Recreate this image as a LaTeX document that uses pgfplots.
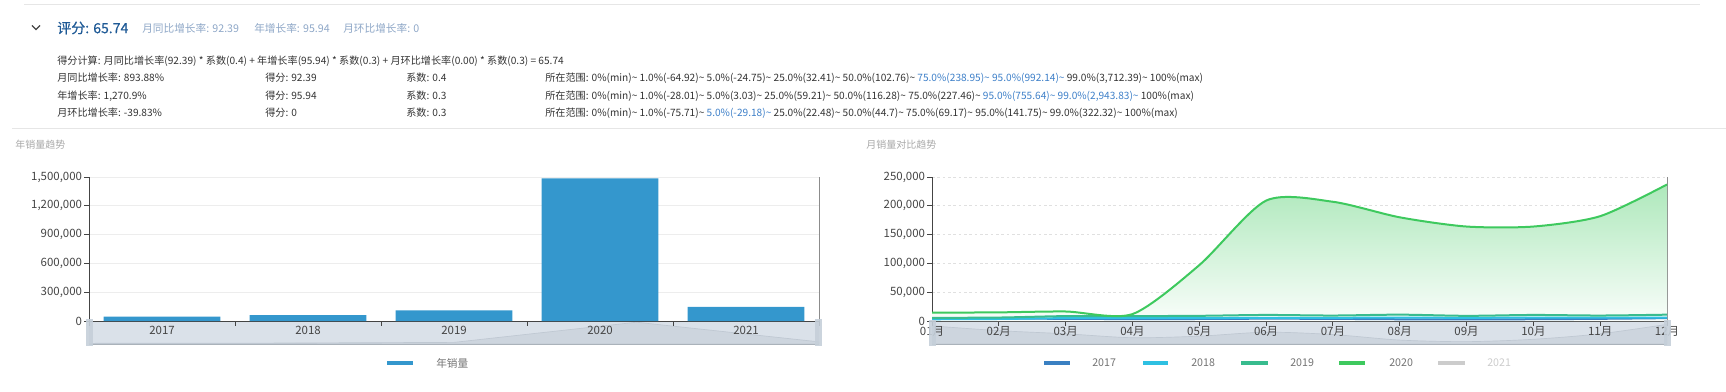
\documentclass[border=0pt]{standalone}
\usepackage{pgfplots}
\usepackage{pgfplotstable}
\pgfplotsset{compat=1.18}
\usepackage{fontspec}
\setmainfont{Noto Sans CJK SC}
\definecolor{txtc}{HTML}{333333}
\definecolor{scoreblue}{HTML}{1F5A96}
\definecolor{subblue}{HTML}{8EA7C7}
\definecolor{hlblue}{HTML}{3D7FC8}
\definecolor{titlegray}{HTML}{A8A8A8}
\definecolor{tickc}{HTML}{444444}
\definecolor{axisc}{HTML}{444444}
\definecolor{barc}{HTML}{3497CD}
\definecolor{cA}{HTML}{3A80C2}
\definecolor{cB}{HTML}{2EC0E2}
\definecolor{cC}{HTML}{38BC8E}
\definecolor{cD}{HTML}{3EC95E}
\definecolor{cE}{HTML}{CCCCCC}
\definecolor{slbg}{HTML}{DAE1E9}
\definecolor{slsh}{HTML}{CDD5DE}
\definecolor{slline}{HTML}{BFC8D2}
\definecolor{slhandle}{HTML}{C5CFD9}
\definecolor{sep}{HTML}{E6E6E6}
\newcommand\T{\textasciitilde}
\newcommand\hl[1]{\textcolor{hlblue}{#1}}

\pgfplotstableread{
x y
0 45000
1 62000
2 110000
3 1485000
4 146000
}\annual

\pgfplotstableread{
m   s17   s18   s19    s20
1   4800  3000  5500   14500
2   4200  3500  6000   15000
3   3800  5000  8500   16500
4   3300  5000  8500   12000
5   3500  5000  9000   97000
6   4000  5500  10500  209000
7   3700  5500  9500   207000
8   3000  6000  11000  180000
9   2800  5500  9000   164000
10  3100  6000  10500  164000
11  3800  6000  9500   182000
12  5000  6000  11000  237000
}\monthly

\pgfplotsset{
  base/.style={
    scale only axis,
    anchor=south west,
    height=108pt,
    ymin=0,
    axis x line*=bottom, axis y line*=left,
    axis line style={draw=axisc, line width=0.75pt},
    tick style={draw=axisc, line width=0.75pt},
    tick align=outside,
    major tick length=3.5pt,
    ymajorgrids,
    tick label style={font=\fontsize{8.6pt}{10pt}\selectfont, text=tickc},
    scaled y ticks=false,
    yticklabel style={inner sep=1.5pt, /pgf/number format/.cd, fixed, 1000 sep={,}, assume math mode=true},
    xticklabel style={anchor=center, yshift=-4pt},
    clip=false,
  },
  shadow/.style={
    scale only axis, anchor=south west, height=16.5pt,
    axis lines=none, ticks=none, ymin=0, clip=true,
  }
}

\begin{document}
\begin{tikzpicture}
\begin{scope}[x=0.75pt,y=-0.75pt]
\path[use as bounding box] (0,0) rectangle (1726,392);
% separators
\draw[sep, line width=0.75pt] (24,4.5) -- (1700,4.5);
\draw[sep, line width=0.75pt] (12,128.5) -- (1726,128.5);
% chevron
\draw[axisc, line width=1pt] (32,25.5) -- (36,29.5) -- (40,25.5);
% header
\node[anchor=west, inner sep=0pt, font=\fontsize{10.5pt}{12pt}\selectfont\addfontfeature{FakeBold=0.6}, text=scoreblue] at (57,28) {评分: 65.74};
\begin{scope}[every node/.style={anchor=west, inner sep=0pt, font=\fontsize{8pt}{9.6pt}\selectfont, text=subblue}]
\node at (142,28) {月同比增长率: 92.39};
\node at (254,28) {年增长率: 95.94};
\node at (343,28) {月环比增长率: 0};
\end{scope}
\begin{scope}[every node/.style={anchor=west, inner sep=0pt, font=\fontsize{7.6pt}{9pt}\selectfont, text=txtc}]
\node at (57,61) {得分计算: 月同比增长率(92.39) * 系数(0.4) + 年增长率(95.94) * 系数(0.3) + 月环比增长率(0.00) * 系数(0.3) = 65.74};
\node at (57,78) {月同比增长率: 893.88\%};
\node at (265,78) {得分: 92.39};
\node at (406,78) {系数: 0.4};
\node at (545,78) {所在范围: 0\%(min)\T{} 1.0\%(-64.92)\T{} 5.0\%(-24.75)\T{} 25.0\%(32.41)\T{} 50.0\%(102.76)\T{} \hl{75.0\%(238.95)\T{} 95.0\%(992.14)\T{}} 99.0\%(3,712.39)\T{} 100\%(max)};
\node at (57,96) {年增长率: 1,270.9\%};
\node at (265,96) {得分: 95.94};
\node at (406,96) {系数: 0.3};
\node at (545,96) {所在范围: 0\%(min)\T{} 1.0\%(-28.01)\T{} 5.0\%(3.03)\T{} 25.0\%(59.21)\T{} 50.0\%(116.28)\T{} 75.0\%(227.46)\T{} \hl{95.0\%(755.64)\T{} 99.0\%(2,943.83)\T{}} 100\%(max)};
\node at (57,113) {月环比增长率: -39.83\%};
\node at (265,113) {得分: 0};
\node at (406,113) {系数: 0.3};
\node at (545,113) {所在范围: 0\%(min)\T{} 1.0\%(-75.71)\T{} \hl{5.0\%(-29.18)\T{}} 25.0\%(22.48)\T{} 50.0\%(44.7)\T{} 75.0\%(69.17)\T{} 95.0\%(141.75)\T{} 99.0\%(322.32)\T{} 100\%(max)};
\end{scope}
% chart titles
\node[anchor=west, inner sep=0pt, font=\fontsize{7.5pt}{9pt}\selectfont, text=titlegray] at (15,145) {年销量趋势};
\node[anchor=west, inner sep=0pt, font=\fontsize{7.5pt}{9pt}\selectfont, text=titlegray] at (866,145) {月销量对比趋势};
% slider backgrounds
\fill[slbg] (89,321) rectangle (819,344);
\draw[slline!80!black, line width=0.75pt] (89,344) -- (819,344);
\fill[slbg] (932,321) rectangle (1667,344);
\draw[slline!80!black, line width=0.75pt] (932,344) -- (1667,344);
\end{scope}

% slider data shadows
\begin{axis}[shadow, at={(66.75pt,-258pt)}, width=547.5pt, xmin=0, xmax=4, ymax=1500000]
\addplot[fill=slsh, draw=slline, line width=0.5pt] table[x=x,y=y]{\annual} \closedcycle;
\end{axis}
\begin{axis}[shadow, at={(699pt,-258pt)}, width=551.25pt, xmin=1, xmax=12, ymin=2500, ymax=5300]
\addplot[fill=slsh, draw=slline, line width=0.5pt, smooth] table[x=m,y=s17]{\monthly} \closedcycle;
\end{axis}

% left chart
\begin{axis}[base, at={(66.75pt,-240.75pt)}, width=547.5pt,
  xmin=-0.5, xmax=4.5, ymax=1500000,
  ytick={0,300000,600000,900000,1200000,1500000},
  grid style={draw=black!7, line width=0.75pt},
  xtick={-0.5,0.5,1.5,2.5,3.5,4.5}, xticklabels={},
  extra x ticks={0,1,2,3,4},
  extra x tick labels={2017,2018,2019,2020,2021},
  extra x tick style={major tick length=0pt, xticklabel style={yshift=-3pt}},
]
\draw[black!45, line width=0.75pt] (rel axis cs:1,0) -- (rel axis cs:1,1);
\addplot[ybar, bar width=0.8, fill=barc, draw=none] table[x=x,y=y]{\annual};
\end{axis}

% right chart
\begin{axis}[base, at={(699pt,-240.75pt)}, width=551.25pt,
  xmin=1, xmax=12, ymax=250000,
  ytick={0,50000,100000,150000,200000,250000},
  grid style={draw=black!12, line width=0.6pt, dash pattern=on 2pt off 2pt},
  xtick={1,...,12},
  xticklabels={01月,02月,03月,04月,05月,06月,07月,08月,09月,10月,11月,12月},
]
\draw[black!45, line width=0.75pt] (rel axis cs:1,0) -- (rel axis cs:1,1);
\addplot[draw=none, top color=cD!42, bottom color=cD!3, smooth, tension=0.45, forget plot] table[x=m,y=s20]{\monthly} \closedcycle;
\addplot[cA, line width=1.5pt, smooth] table[x=m,y=s17]{\monthly};
\addplot[cB, line width=1.5pt, smooth] table[x=m,y=s18]{\monthly};
\addplot[cC, line width=1.5pt, smooth] table[x=m,y=s19]{\monthly};
\addplot[cD, line width=1.5pt, smooth, tension=0.45] table[x=m,y=s20]{\monthly};
\end{axis}

\begin{scope}[x=0.75pt,y=-0.75pt]
% slider handles
\fill[slhandle, opacity=0.9] (86,319) rectangle (93,346);
\fill[slhandle, opacity=0.9] (815,319) rectangle (822,346);
\fill[slhandle, opacity=0.9] (929,320) rectangle (936,346);
\fill[slhandle, opacity=0.9] (1664,320) rectangle (1671,346);
% legends
\begin{scope}[every node/.style={anchor=west, inner sep=0pt, font=\fontsize{8pt}{9.6pt}\selectfont, text=black!55}]
\draw[barc, line width=3pt] (387,363) -- (413,363);
\node at (436,363) {年销量};
\draw[cA, line width=3pt] (1044,363) -- (1070,363);
\node at (1092,363) {2017};
\draw[cB, line width=3pt] (1143,363) -- (1168,363);
\node at (1191,363) {2018};
\draw[cC, line width=3pt] (1241,363) -- (1268,363);
\node at (1290,363) {2019};
\draw[cD, line width=3pt] (1339,363) -- (1365,363);
\node at (1389,363) {2020};
\draw[cE, line width=3pt] (1438,363) -- (1465,363);
\node[text=cE] at (1487,363) {2021};
\end{scope}
\end{scope}
\end{tikzpicture}
\end{document}
